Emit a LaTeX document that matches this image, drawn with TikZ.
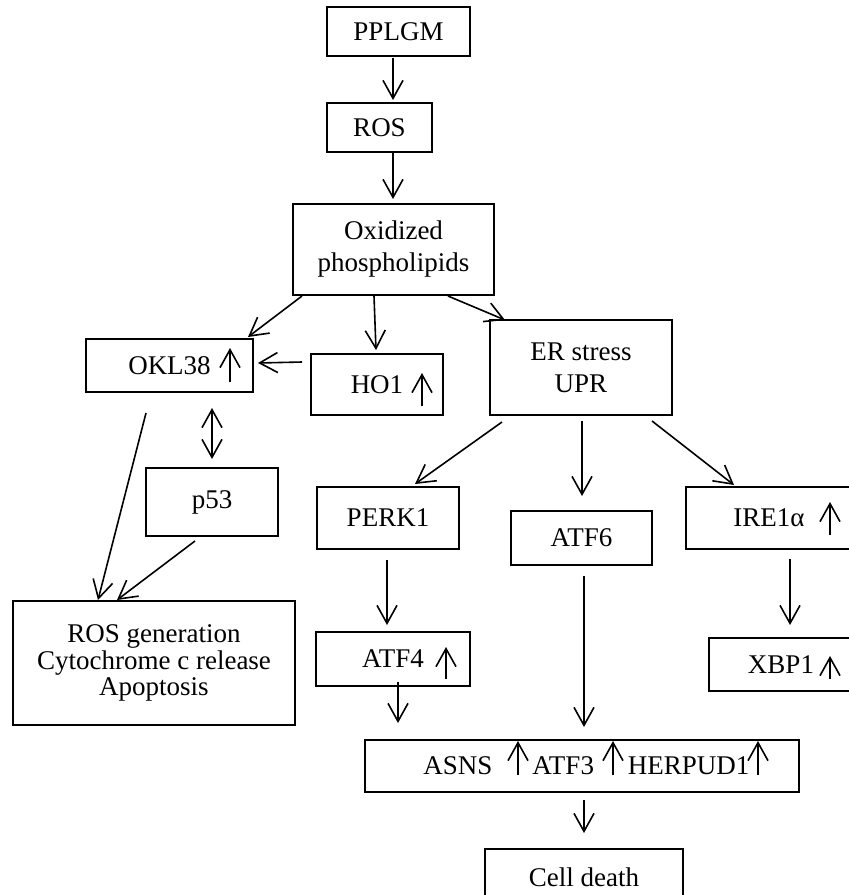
\documentclass[tikz,border=0pt]{standalone}
\usepackage{fontspec}
\setmainfont{Liberation Serif}
\usetikzlibrary{arrows.meta,calc}

\begin{document}
\begin{tikzpicture}[x=0.5pt,y=-0.5pt,
        >={Straight Barb[length=9pt,width=10pt]},
        box/.style={draw,line width=1pt,inner sep=0pt,outer sep=0pt,align=center,
                font=\fontsize{13.5}{16}\selectfont},
        arr/.style={line width=0.8pt,->}]
        \clip (0,0) rectangle (849,895);
        \node[box,minimum width=71.5pt,minimum height=24.5pt] (pplgm) at (398.5,31.5) {PPLGM};
        \node[box,minimum width=52.5pt,minimum height=24.5pt] (ros) at (379.5,127.5) {ROS};
        \node[box,minimum width=100.5pt,minimum height=45.5pt] (ox) at (393.5,249.5) {Oxidized\\phospholipids};
        \node[box,minimum width=83.5pt,minimum height=26.5pt] (okl) at (169.5,365.5) {OKL38};
        \node[box,minimum width=66pt,minimum height=30.5pt] (ho1) at (377,384.5) {HO1};
        \node[box,minimum width=91pt,minimum height=47.5pt] (er) at (581,367.5) {ER stress\\UPR};
        \node[box,minimum width=66pt,minimum height=34pt] (p53) at (212,502) {p53};
        \node[box,minimum width=141pt,minimum height=62pt,font=\fontsize{13.5}{13.25}\selectfont] (rosg) at (154,663)
                {ROS generation\\Cytochrome c release\\Apoptosis};
        \node[box,minimum width=71pt,minimum height=31pt] (perk) at (388,518) {PERK1};
        \node[box,minimum width=70.5pt,minimum height=27pt] (atf6) at (581.5,538) {ATF6};
        \node[box,minimum width=83pt,minimum height=31pt] (ire) at (769,518) {IRE1α};
        \node[box,minimum width=77pt,minimum height=27pt] (atf4) at (393,659) {ATF4};
        \node[box,minimum width=72pt,minimum height=26.5pt] (xbp) at (781,664.5) {XBP1};
        \node[box,minimum width=217pt,minimum height=26pt] (asns) at (582,766)
                {\hspace*{4.5pt}ASNS\hspace{20pt}ATF3\hspace{17pt}HERPUD1};
        \node[box,minimum width=99pt,minimum height=28pt] (cell) at (584,877) {Cell death};

        \draw[arr] ($(pplgm.south)+(-5.5,2)$) -- ($(ros.north)+(13.5,-3)$);
        \draw[arr] ($(ros.south)+(13.5,0)$) -- ($(ox.north)+(-0.5,-5)$);
        \draw[arr] ($(ox.south west)+(9,1)$) -- ($(okl.north east)+(-5,-2)$);
        \draw[arr] ($(ox.south)+(-19.5,1)$) -- ($(ho1.north)+(-1,-4)$);
        \draw[arr] ($(ox.south)+(54.5,1)$) -- ($(er.north west)+(15,0)$);
        \draw[arr] ($(ho1.west)+(-9,-22.5)$) -- ($(okl.east)+(5,-2.5)$);
        \draw[arr,<->] ($(okl.south)+(42.5,16)$) -- ($(p53.north)+(0,-9)$);
        \draw[arr] ($(okl.south)+(-23.5,21)$) -- ($(rosg.north west)+(85,-1)$);
        \draw[arr] ($(p53.south)+(-17,5)$) -- ($(rosg.north west)+(104,-1)$);
        \draw[arr] ($(er.south west)+(12,7)$) -- ($(perk.north)+(27,-3)$);
        \draw[arr] ($(er.south)+(1,6)$) -- ($(atf6.north)+(0.5,-15)$);
        \draw[arr] ($(er.south east)+(-20,6)$) -- ($(ire.north west)+(48,-2)$);
        \draw[arr] ($(perk.south)+(-1,11)$) -- ($(atf4.north)+(-6,-7)$);
        \draw[arr] ($(atf6.south)+(2.5,11)$) -- ($(asns.north)+(2,-13)$);
        \draw[arr] ($(ire.south)+(21,10)$) -- ($(xbp.north)+(9,-13)$);
        \draw[arr] ($(atf4.south)+(5,-4)$) -- ($(asns.north west)+(33,-17)$);
        \draw[arr] ($(asns.south)+(2,8)$) -- ($(cell.north)+(0,-16)$);

        \draw[arr] ($(okl)+(60.5,16.5)$) -- ++(0,-34);
        \draw[arr] ($(ho1)+(45,21.5)$) -- ++(0,-33);
        \draw[arr] ($(ire)+(61,17)$) -- ++(0,-33);
        \draw[arr] ($(atf4)+(53,20)$) -- ++(0,-32);
        \draw[arr] ($(xbp)+(49,14.5)$) -- ++(0,-23);
        \draw[arr] ($(asns)+(-64,9)$) -- ++(0,-34);
        \draw[arr] ($(asns)+(31,9)$) -- ++(0,-34);
        \draw[arr] ($(asns)+(176,9)$) -- ++(0,-34);
\end{tikzpicture}
\end{document}
